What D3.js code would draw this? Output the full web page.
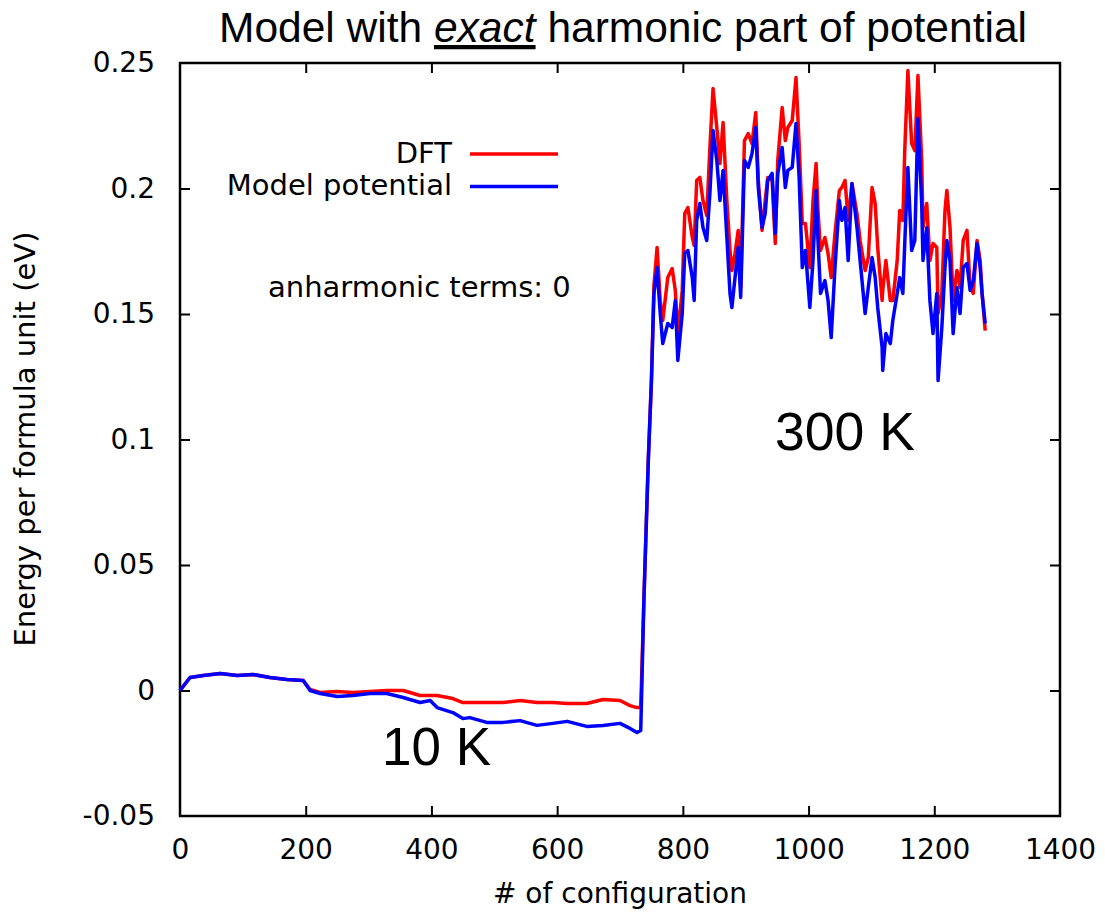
<!DOCTYPE html>
<html>
<head>
<meta charset="utf-8">
<script src="https://cdn.jsdelivr.net/npm/d3@7/dist/d3.min.js"></script>
<style>
  html, body { margin: 0; padding: 0; background: #fff; }
  svg { display: block; }
</style>
</head>
<body>
<script>
// ---- Data ----
const configs = [0,16,37,64,91,116,143,170,196,207,223,250,275,302,329,355,382,398,409,434,450,461,488,514,541,568,593,616,647,673,700,716,727,733,
  738,745,750,754,759,764,768,776,783,788,792,799,803,808,815,818,822,827,832,838,843,848,854,859,864,870,875,878,883,888,892,898,904,910,916,920,926,931,935,942,947,951,958,963,967,974,980,985,990,995,1002,1007,1012,1015,1019,1026,1031,1036,1042,1049,1053,1058,1063,1069,1077,1082,1090,1095,1101,1106,1110,1117,1118,1123,1130,1134,1141,1145,1150,1153,1158,1164,1169,1174,1180,1182,1188,1193,1198,1204,1206,1212,1217,1220,1225,1230,1236,1241,1246,1252,1257,1262,1268,1273,1276,1281];
const dftEnergy = [0,0.0052,0.0060,0.0068,0.0060,0.0064,0.0052,0.0044,0.0040,0.0004,-0.0008,-0.0004,-0.0008,-0.0004,0.0000,0.0000,-0.0020,-0.0020,-0.0020,-0.0032,-0.0048,-0.0048,-0.0048,-0.0048,-0.0040,-0.0048,-0.0048,-0.0052,-0.0052,-0.0036,-0.0040,-0.0060,-0.0068,-0.0068,
  0.0359,0.0916,0.1235,0.1614,0.1765,0.1554,0.1474,0.1645,0.1681,0.1594,0.1422,0.1594,0.1900,0.1924,0.1805,0.1773,0.2032,0.2044,0.1952,0.1892,0.2163,0.2398,0.2243,0.2100,0.2263,0.1952,0.1753,0.1673,0.1741,0.1833,0.1606,0.2191,0.2219,0.2179,0.2303,0.2032,0.1833,0.1952,0.2044,0.2032,0.1781,0.2112,0.2323,0.2191,0.2243,0.2271,0.2442,0.2179,0.1861,0.1861,0.1685,0.1952,0.2100,0.1912,0.1753,0.1805,0.1741,0.1645,0.1821,0.1992,0.2004,0.2032,0.1873,0.2020,0.1900,0.1793,0.1673,0.1725,0.2004,0.1940,0.1765,0.1554,0.1594,0.1713,0.1554,0.1554,0.1713,0.1912,0.1873,0.2151,0.2470,0.2179,0.2151,0.2450,0.2112,0.1845,0.1940,0.1713,0.1781,0.1765,0.1502,0.1582,0.1912,0.1992,0.1845,0.1554,0.1673,0.1606,0.1793,0.1833,0.1606,0.1582,0.1793,0.1713,0.1582,0.1434];
const modelEnergy = [0,0.0052,0.0060,0.0068,0.0060,0.0064,0.0052,0.0044,0.0040,0.0000,-0.0012,-0.0024,-0.0020,-0.0012,-0.0012,-0.0028,-0.0048,-0.0040,-0.0068,-0.0088,-0.0112,-0.0108,-0.0127,-0.0127,-0.0120,-0.0139,-0.0131,-0.0123,-0.0143,-0.0139,-0.0131,-0.0151,-0.0167,-0.0159,
  0.0359,0.0916,0.1235,0.1582,0.1685,0.1502,0.1382,0.1462,0.1446,0.1554,0.1315,0.1502,0.1741,0.1753,0.1645,0.1554,0.1873,0.1940,0.1845,0.1793,0.1980,0.2231,0.2112,0.1952,0.2072,0.1805,0.1582,0.1526,0.1645,0.1765,0.1566,0.2112,0.2084,0.2139,0.2243,0.2004,0.1845,0.1900,0.2032,0.2060,0.1821,0.2060,0.2163,0.2004,0.2072,0.2084,0.2259,0.2044,0.1685,0.1753,0.1526,0.1713,0.1992,0.1793,0.1582,0.1633,0.1554,0.1406,0.1685,0.1952,0.1873,0.1924,0.1713,0.2020,0.1845,0.1713,0.1502,0.1606,0.1725,0.1645,0.1526,0.1367,0.1275,0.1422,0.1382,0.1474,0.1582,0.1645,0.1582,0.1781,0.2084,0.1753,0.1793,0.2279,0.1940,0.1713,0.1845,0.1554,0.1422,0.1582,0.1235,0.1446,0.1685,0.1793,0.1713,0.1422,0.1606,0.1502,0.1685,0.1701,0.1594,0.1633,0.1781,0.1685,0.1582,0.1462];
const xTicks = [0,200,400,600,800,1000,1200,1400];
const yTicks = [-0.05,0,0.05,0.1,0.15,0.2,0.25];
const yTickLabels = ["-0.05","0","0.05","0.1","0.15","0.2","0.25"];
const seriesNames = ["DFT","Model potential"];
const seriesColors = ["#ff0000","#0000ff"];

// ---- Layout ----
const W = 1105, H = 912;
const L = 180, R = 1060, T = 63, B = 816;

const svg = d3.select("body").append("svg").attr("width", W).attr("height", H);

const x = d3.scaleLinear().domain([0,1400]).range([L,R]);
const y = d3.scaleLinear().domain([-0.05,0.25]).range([B,T]);

const tickFont = "'DejaVu Sans', sans-serif";
const sansFont = "'Liberation Sans', Arial, sans-serif";

// Title
const title = svg.append("text")
  .attr("x", 623).attr("y", 42)
  .attr("text-anchor","middle")
  .attr("font-family",sansFont)
  .attr("font-size", 42.5)
  .attr("fill","#000");
title.append("tspan").text("Model with ");
title.append("tspan").attr("font-style","italic").attr("text-decoration","underline").text("exact");
title.append("tspan").text(" harmonic part of potential");

// Axes with inward ticks
const tickLen = 10;
const gB = svg.append("g").attr("transform",`translate(0,${B})`)
  .call(d3.axisBottom(x).tickValues(xTicks).tickSizeInner(-tickLen).tickSizeOuter(0).tickPadding(23).tickFormat(d3.format("d")));
const gT = svg.append("g").attr("transform",`translate(0,${T})`)
  .call(d3.axisTop(x).tickValues(xTicks.slice(1,-1)).tickSizeInner(-tickLen).tickSizeOuter(0).tickFormat(""));
const gL = svg.append("g").attr("transform",`translate(${L},0)`)
  .call(d3.axisLeft(y).tickValues(yTicks.slice(1,-1)).tickSizeInner(-tickLen).tickSizeOuter(0).tickPadding(25).tickFormat((d,i)=>yTickLabels[i+1]));
const gLlab = svg.append("g").attr("transform",`translate(${L},0)`)
  .call(d3.axisLeft(y).tickValues([yTicks[0], yTicks[yTicks.length-1]]).tickSize(0).tickPadding(25).tickFormat((d,i)=> i===0 ? yTickLabels[0] : yTickLabels[yTickLabels.length-1]));
const gR = svg.append("g").attr("transform",`translate(${R},0)`)
  .call(d3.axisRight(y).tickValues(yTicks.slice(1,-1)).tickSizeInner(-tickLen).tickSizeOuter(0).tickFormat(""));

[gB,gT,gL,gLlab,gR].forEach(g=>{
  g.select(".domain").remove();
  g.selectAll(".tick line").attr("stroke","#000").attr("stroke-width",2);
  g.selectAll(".tick text").attr("font-family",tickFont).attr("font-size",28).attr("fill","#000");
});
gB.selectAll(".tick line").filter(d=> d===0 || d===1400).remove();

// Frame
svg.append("rect").attr("x",L).attr("y",T).attr("width",R-L).attr("height",B-T)
  .attr("fill","none").attr("stroke","#000").attr("stroke-width",2.5);

// Data lines
const line = d3.line().x((d)=>x(d[0])).y((d)=>y(d[1]));
const dftPts = configs.map((c,i)=>[c, dftEnergy[i]]);
const modelPts = configs.map((c,i)=>[c, modelEnergy[i]]);

svg.append("path").datum(dftPts).attr("d",line)
  .attr("fill","none").attr("stroke",seriesColors[0]).attr("stroke-width",3.5).attr("stroke-linejoin","round");
svg.append("path").datum(modelPts).attr("d",line)
  .attr("fill","none").attr("stroke",seriesColors[1]).attr("stroke-width",3.5).attr("stroke-linejoin","round");

// Legend
const legY = [154, 186.5];
const legTextY = [163, 195];
seriesNames.forEach((n,i)=>{
  svg.append("text").attr("x",452).attr("y",legTextY[i])
    .attr("text-anchor","end").attr("font-family",tickFont).attr("font-size",29).attr("fill","#000").text(n);
  svg.append("line").attr("x1",470).attr("x2",558).attr("y1",legY[i]).attr("y2",legY[i])
    .attr("stroke",seriesColors[i]).attr("stroke-width",3.5);
});

svg.append("text").attr("x",268).attr("y",297)
  .attr("font-family",tickFont).attr("font-size",29).attr("fill","#000").text("anharmonic terms: 0");

// Annotations
svg.append("text").attr("x",775).attr("y",450)
  .attr("font-family",sansFont).attr("font-size",53.5).attr("fill","#000").text("300 K");
svg.append("text").attr("x",382).attr("y",765)
  .attr("font-family",sansFont).attr("font-size",53).attr("fill","#000").text("10 K");

// Axis labels
svg.append("text").attr("x",620).attr("y",903)
  .attr("text-anchor","middle").attr("font-family",tickFont).attr("font-size",28).attr("fill","#000")
  .text("# of configuration");
svg.append("text")
  .attr("transform","translate(35,439) rotate(-90)")
  .attr("text-anchor","middle").attr("font-family",tickFont).attr("font-size",29).attr("fill","#000")
  .text("Energy per formula unit (eV)");
</script>
</body>
</html>
